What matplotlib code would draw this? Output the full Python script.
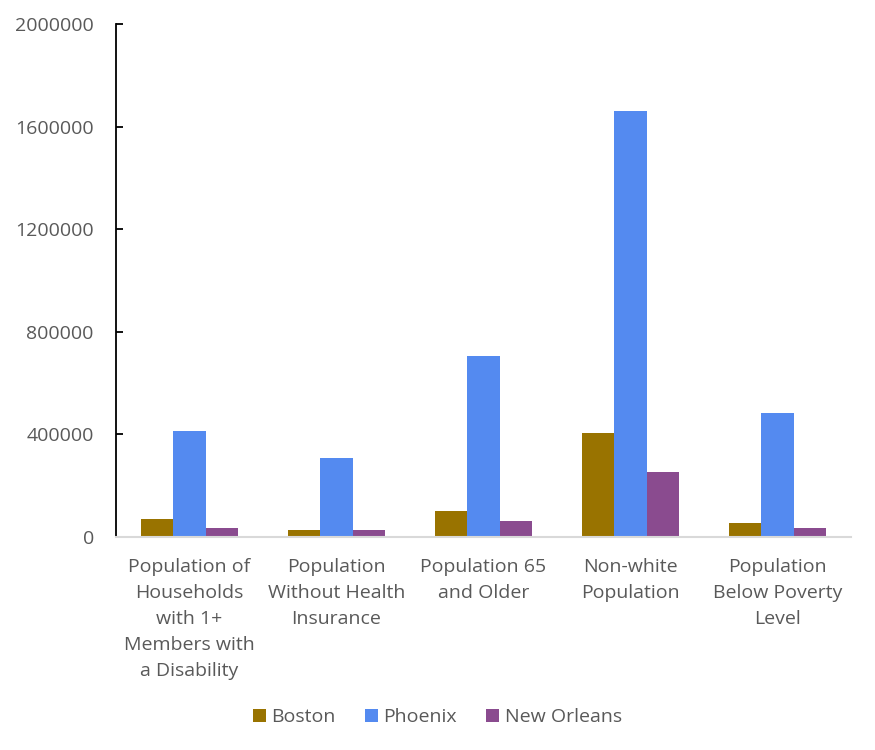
import matplotlib
matplotlib.use("Agg")
import matplotlib.pyplot as plt
import numpy as np

categories = [
    "Population of\nHouseholds\nwith 1+\nMembers with\na Disability",
    "Population\nWithout Health\nInsurance",
    "Population 65\nand Older",
    "Non-white\nPopulation",
    "Population\nBelow Poverty\nLevel",
]
series_names = ["Boston", "Phoenix", "New Orleans"]
boston = [72000, 26000, 103000, 406000, 53000]
phoenix = [414000, 309000, 705000, 1660000, 484000]
new_orleans = [37000, 29000, 61000, 255000, 37000]
yticks = [0, 400000, 800000, 1200000, 1600000, 2000000]

colors = ["#997300", "#548AF0", "#8A4B8F"]
text_color = "#595959"

plt.rcParams['font.family'] = ['Open Sans', 'DejaVu Sans']

fig = plt.figure(figsize=(8.75, 7.5), dpi=100)
ax = fig.add_axes([116/875, 1 - 537/750, 735/875, 513/750])

x = np.arange(len(categories))
w = 0.222
for i, (vals, name, c) in enumerate(zip([boston, phoenix, new_orleans], series_names, colors)):
    ax.bar(x + (i - 1) * w, vals, width=w, color=c, label=name, zorder=2)

ax.set_xlim(-0.5, len(categories) - 0.5)
ax.set_ylim(0, 2000000)
ax.set_yticks(yticks)
ax.set_yticklabels([str(v) for v in yticks])
ax.set_xticks(x)
ax.set_xticklabels(categories, linespacing=1.58)

for s in ["top", "right"]:
    ax.spines[s].set_visible(False)
ax.spines["left"].set_color("black")
ax.spines["left"].set_linewidth(1.3)
ax.spines["bottom"].set_color("#d9d9d9")
ax.spines["bottom"].set_linewidth(1.5)

ax.tick_params(axis="y", direction="in", length=5, width=1.3, color="black",
               labelsize=14, labelcolor=text_color, pad=16)
ax.tick_params(axis="x", length=0, labelsize=14, labelcolor=text_color, pad=15)

fig.legend(loc="center", bbox_to_anchor=(0.5, 1 - 717/750), ncol=3, frameon=False,
           fontsize=14, labelcolor=text_color, handlelength=0.65, handleheight=0.65,
           handletextpad=0.3, columnspacing=1.5)

fig.savefig("out.png", dpi=100)
